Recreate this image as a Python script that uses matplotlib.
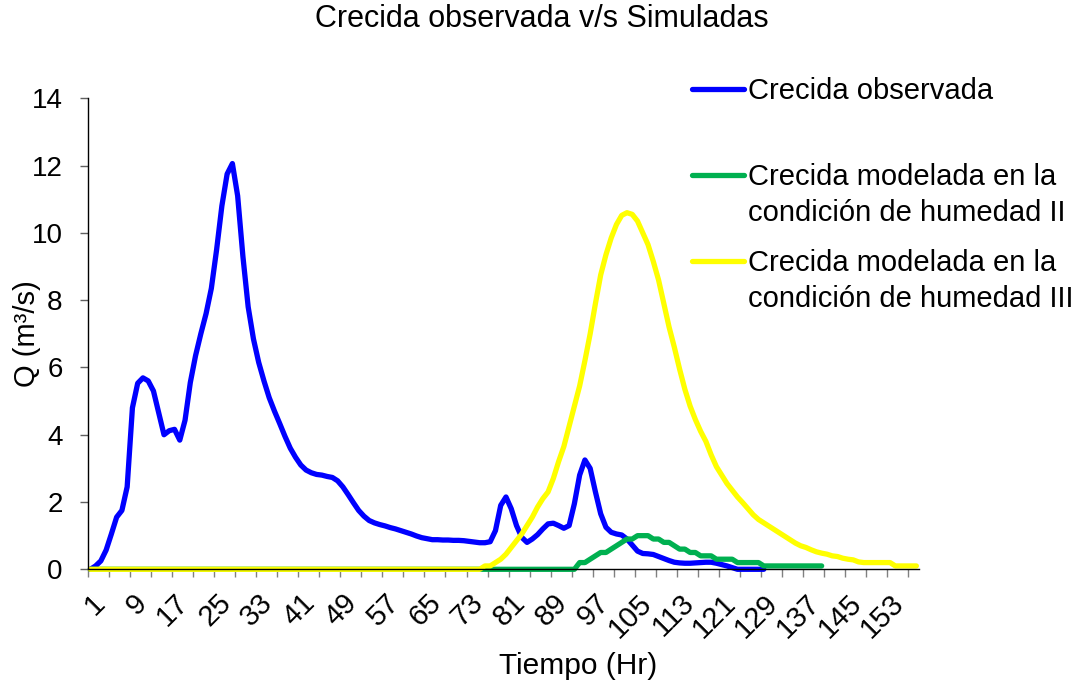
import matplotlib
matplotlib.use("Agg")
import numpy as np
import matplotlib.pyplot as plt
from matplotlib.lines import Line2D

# datos (Q en m3/s, una fila por hora)
horas = np.arange(1, 159)
etiquetas_x = list(range(1, 154, 8))

q_observada = [
    0.0, 0.1, 0.25, 0.57, 1.05, 1.55, 1.75, 2.45, 4.8, 5.53,
    5.69, 5.6, 5.3, 4.65, 4.0, 4.12, 4.16, 3.84, 4.43, 5.55,
    6.35, 7.0, 7.6, 8.35, 9.5, 10.8, 11.75, 12.06, 11.1, 9.3,
    7.8, 6.85, 6.15, 5.6, 5.1, 4.7, 4.33, 3.95, 3.6, 3.33,
    3.1, 2.95, 2.87, 2.82, 2.8, 2.76, 2.73, 2.63, 2.45, 2.22,
    1.98, 1.75, 1.58, 1.45, 1.38, 1.33, 1.29, 1.24, 1.2, 1.15,
    1.1, 1.05, 0.99, 0.94, 0.91, 0.88, 0.88, 0.87, 0.87, 0.86,
    0.86, 0.85, 0.83, 0.81, 0.79, 0.79, 0.82, 1.15, 1.9, 2.15,
    1.8, 1.3, 0.95, 0.8, 0.9, 1.03, 1.2, 1.35, 1.37, 1.3,
    1.22, 1.3, 1.95, 2.8, 3.25, 3.0, 2.3, 1.65, 1.25, 1.1,
    1.05, 1.02, 0.9, 0.72, 0.54, 0.47, 0.46, 0.44, 0.38, 0.32,
    0.26, 0.21, 0.19, 0.18, 0.18, 0.19, 0.2, 0.21, 0.21, 0.18,
    0.14, 0.1, 0.05, 0.0, 0.0, 0.0, 0.0, 0.0, 0.0,
]

q_humedad_2 = [
    0, 0, 0, 0, 0, 0, 0, 0, 0, 0, 0, 0, 0, 0, 0, 0, 0, 0, 0, 0,
    0, 0, 0, 0, 0, 0, 0, 0, 0, 0, 0, 0, 0, 0, 0, 0, 0, 0, 0, 0,
    0, 0, 0, 0, 0, 0, 0, 0, 0, 0, 0, 0, 0, 0, 0, 0, 0, 0, 0, 0,
    0, 0, 0, 0, 0, 0, 0, 0, 0, 0, 0, 0, 0, 0, 0, 0, 0, 0, 0, 0,
    0, 0, 0, 0, 0, 0, 0, 0, 0, 0, 0, 0, 0,
    0.2, 0.2, 0.3, 0.4, 0.5, 0.5, 0.6, 0.7, 0.8, 0.9,
    0.9, 1.0, 1.0, 1.0, 0.9, 0.9, 0.8, 0.8, 0.7, 0.6,
    0.6, 0.5, 0.5, 0.4, 0.4, 0.4, 0.3, 0.3, 0.3, 0.3,
    0.2, 0.2, 0.2, 0.2, 0.2,
    0.1, 0.1, 0.1, 0.1, 0.1, 0.1, 0.1, 0.1, 0.1, 0.1, 0.1, 0.1,
]

q_humedad_3 = [
    0, 0, 0, 0, 0, 0, 0, 0, 0, 0, 0, 0, 0, 0, 0, 0, 0, 0, 0, 0,
    0, 0, 0, 0, 0, 0, 0, 0, 0, 0, 0, 0, 0, 0, 0, 0, 0, 0, 0, 0,
    0, 0, 0, 0, 0, 0, 0, 0, 0, 0, 0, 0, 0, 0, 0, 0, 0, 0, 0, 0,
    0, 0, 0, 0, 0, 0, 0, 0, 0, 0, 0, 0, 0, 0, 0,
    0.1, 0.1, 0.2, 0.3, 0.45, 0.65, 0.85, 1.05, 1.3, 1.55,
    1.85, 2.1, 2.3, 2.7, 3.2, 3.65, 4.25, 4.85, 5.45, 6.2,
    7.0, 7.9, 8.75, 9.35, 9.85, 10.25, 10.52, 10.6, 10.55, 10.35,
    10.0, 9.65, 9.15, 8.6, 7.9, 7.2, 6.6, 5.95, 5.35, 4.85,
    4.45, 4.1, 3.8, 3.4, 3.05, 2.8, 2.55, 2.35, 2.15, 1.98,
    1.8, 1.62, 1.48, 1.38, 1.28, 1.18, 1.08, 0.98, 0.88, 0.78,
    0.7, 0.65, 0.58, 0.52, 0.48, 0.45, 0.4, 0.38, 0.33, 0.3,
    0.28, 0.22, 0.2, 0.2, 0.2, 0.2, 0.2, 0.2, 0.1, 0.1, 0.1, 0.1, 0.1,
]

series = [
    ("Crecida observada", q_observada, "#0000FF"),
    ("Crecida modelada en la\ncondición de humedad II", q_humedad_2, "#00B050"),
    ("Crecida modelada en la\ncondición de humedad III", q_humedad_3, "#FFFF00"),
]

plt.rcParams['font.family'] = ['Liberation Sans', 'DejaVu Sans']
W, H = 1084, 689

fig = plt.figure(figsize=(W / 100, H / 100), dpi=100)
ax = fig.add_axes([87.7 / W, 1 - 569.3 / H, (919 - 87.7) / W, (569.3 - 98.3) / H])

for nombre, q, color in series:
    ax.plot(horas[:len(q)], q, color=color, lw=3.8, solid_capstyle="round",
            solid_joinstyle="round", clip_on=False)

ax.set_xlim(0.5, 158.5)
ax.set_ylim(0, 14)
ax.set_yticks(range(0, 15, 2))
ax.set_xticks(etiquetas_x)
ax.set_xticklabels([str(e) for e in etiquetas_x])
ax.set_xticks(np.arange(0.5, 157, 4), minor=True)

for s in ["top", "right"]:
    ax.spines[s].set_visible(False)
for s in ["left", "bottom"]:
    ax.spines[s].set_linewidth(1)
    ax.spines[s].set_color("black")

ax.tick_params(axis="x", which="major", length=0, pad=14, labelsize=21)
ax.tick_params(axis="x", which="minor", length=6, width=1, color="#808080")
ax.tick_params(axis="y", length=6, width=1, color="#606060", pad=12, labelsize=20)
for lbl in ax.get_xticklabels():
    lbl.set_rotation(45)
    lbl.set_ha("right")
    lbl.set_va("top")
    lbl.set_rotation_mode("anchor")

fig.text(0.5, 1 - 19 / H, "Crecida observada v/s Simuladas", ha="center", va="center", fontsize=22)
fig.text(578 / W, 1 - 666 / H, "Tiempo (Hr)", ha="center", va="center", fontsize=21.5)
fig.text(27 / W, 1 - 334 / H, "Q (m³/s)", rotation=90, ha="center", va="center", fontsize=21)

# leyenda a la derecha
leyenda_y = [89, 175, 261]
for (nombre, q, color), y in zip(series, leyenda_y):
    fig.add_artist(Line2D([692 / W, 744 / W], [1 - y / H] * 2, color=color, lw=3.8,
                          solid_capstyle="round", transform=fig.transFigure))
    for i, linea in enumerate(nombre.split("\n")):
        fig.text(748 / W, 1 - (y + 10 + 36 * i) / H, linea, ha="left", va="baseline", fontsize=21)

fig.savefig("out.png", dpi=100)
